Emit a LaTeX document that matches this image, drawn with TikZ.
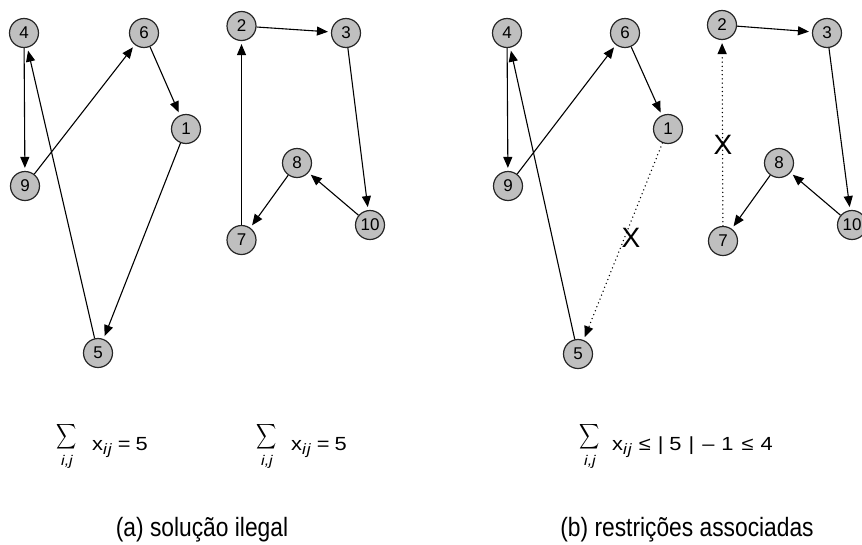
\documentclass[tikz,border=0pt]{standalone}
\usepackage{fontspec}
\usepackage{graphicx}
\setmainfont[FakeStretch=0.86]{Liberation Sans}
\newfontfamily\plainfont{Liberation Sans}
\newfontfamily\widefont[FakeStretch=1.15]{Liberation Sans}
\usetikzlibrary{arrows.meta}
\newcommand{\subij}{\raisebox{-4.5pt}{\fontsize{15}{15}\selectfont\itshape i\kern1pt j}}
\newcommand{\bigsum}{\scalebox{1.4}[1.75]{$\displaystyle\sum$}}
\begin{document}
\begin{tikzpicture}[x=1pt,y=-1pt,
  vtx/.style={circle,draw=black!85,line width=1.2pt,fill=black!25,minimum size=29pt,inner sep=0pt,font=\plainfont\fontsize{17}{17}\selectfont},
  arr/.style={line width=1.1pt,-{Triangle[length=11pt,width=9pt]},shorten >=3pt},
  dotarr/.style={arr,line width=1.5pt,line cap=round,dash pattern=on 0pt off 4.2pt},
  frm/.style={anchor=base west,inner sep=0pt,font=\widefont\fontsize{19}{19}\selectfont},
  sig/.style={inner sep=0pt},
  sub/.style={anchor=base,inner sep=0pt,font=\widefont\fontsize{14}{14}\selectfont\itshape},
  xmark/.style={inner sep=0pt,font=\plainfont\fontsize{28}{28}\selectfont},
  captxt/.style={anchor=base,inner sep=0pt,font=\fontsize{26.5}{26.5}\selectfont}]
\useasboundingbox (0,0) rectangle (862,544);
% ---- left graph (a)
\node[vtx] (a4) at (24,33) {4};
\node[vtx] (a6) at (144,33) {6};
\node[vtx] (a1) at (186,129) {1};
\node[vtx] (a9) at (25,186) {9};
\node[vtx] (a5) at (98,353) {5};
\node[vtx] (a2) at (241.5,26) {2};
\node[vtx] (a3) at (346,33) {3};
\node[vtx] (a8) at (297,163) {8};
\node[vtx] (a10) at (370,225) {10};
\node[vtx] (a7) at (241.5,240) {7};
\draw[arr] (a4) -- (a9);
\draw[arr] (a9) -- (a6);
\draw[arr] (a6) -- (a1);
\draw[arr] (a1) -- (a5);
\draw[arr] (a5) -- (a4);
\draw[arr] (a2) -- (a3);
\draw[arr] (a3) -- (a10);
\draw[arr] (a10) -- (a8);
\draw[arr] (a8) -- (a7);
\draw[arr] (a7) -- (a2);
% ---- right graph (b)
\node[vtx] (b4) at (507,33) {4};
\node[vtx] (b6) at (625,33) {6};
\node[vtx] (b1) at (668,129) {1};
\node[vtx] (b9) at (508,186) {9};
\node[vtx] (b5) at (578,354) {5};
\node[vtx] (b2) at (722,25) {2};
\node[vtx] (b3) at (827,33) {3};
\node[vtx] (b8) at (779,163) {8};
\node[vtx] (b10) at (852,225) {10};
\node[vtx] (b7) at (723,241) {7};
\draw[arr] (b4) -- (b9);
\draw[arr] (b9) -- (b6);
\draw[arr] (b6) -- (b1);
\draw[dotarr] (b1) -- (b5);
\draw[arr] (b5) -- (b4);
\draw[arr] (b2) -- (b3);
\draw[arr] (b3) -- (b10);
\draw[arr] (b10) -- (b8);
\draw[arr] (b8) -- (b7);
\draw[dotarr] (b7) -- (b2);
\node[xmark] (x1) at (631,238) {X};
\node[xmark] (x2) at (723,145) {X};
% ---- formulas
\node[sig] (s1) at (67,437) {\bigsum};
\node[sub] (j1) at (67,465) {i,j};
\node[frm] (f1) at (92,450) {x\subij\kern6pt=\kern5pt5};
\node[sig] (s2) at (267,437) {\bigsum};
\node[sub] (j2) at (267,465) {i,j};
\node[frm] (f2) at (291,450) {x\subij\kern6pt=\kern5pt5};
\node[sig] (s3) at (590,437) {\bigsum};
\node[sub] (j3) at (590,465) {i,j};
\node[frm] (f3) at (612,450) {x\subij\kern7pt≤\kern7pt|\kern6pt5\kern7pt|\kern8pt–\kern7pt1\kern8pt≤\kern7pt4};
% ---- captions
\node[captxt] (ca) at (202,536) {(a) solução ilegal};
\node[captxt] (cb) at (687,536) {(b) restrições associadas};
\end{tikzpicture}
\end{document}
